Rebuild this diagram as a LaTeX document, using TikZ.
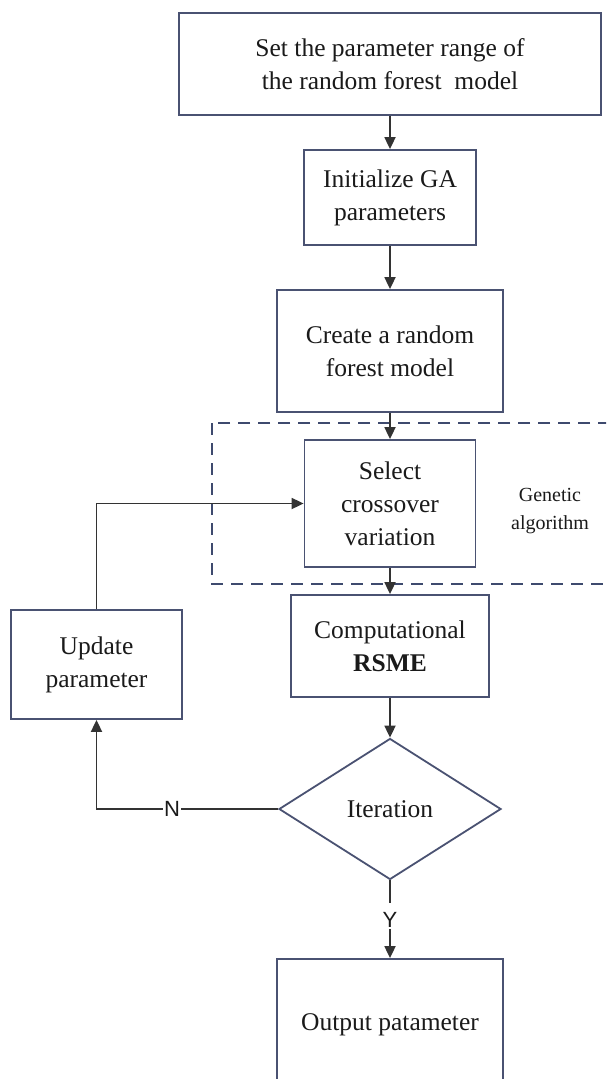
\documentclass[tikz,border=0pt]{standalone}
\usepackage{fontspec}
\setmainfont{Liberation Serif}
\newfontfamily\labelfont{Liberation Sans}
\usetikzlibrary{arrows.meta,shapes.geometric}
\definecolor{boxline}{HTML}{4A5272}
\definecolor{dashline}{HTML}{3E4A6E}
\definecolor{flowline}{HTML}{333333}
\definecolor{ink}{HTML}{1A1A1A}
\tikzset{
  stepbox/.style={draw=boxline, line width=1.8pt, rectangle, align=center,
    text=ink, font=\fontsize{25.5}{33}\selectfont, inner sep=0pt},
  decision/.style={draw=boxline, line width=1.8pt, diamond, aspect=1.57,
    inner sep=0pt, text=ink, font=\fontsize{25.5}{33}\selectfont},
  flow/.style={draw=flowline, line width=1.8pt,
    -{Triangle[length=12pt,width=11pt]}},
  plainflow/.style={draw=flowline, line width=1.8pt},
  yn/.style={font=\labelfont\fontsize{22}{24}\selectfont, text=ink,
    fill=white, inner sep=1pt},
}
\begin{document}
\begin{tikzpicture}[x=1pt,y=-1pt]
\clip (0,0) rectangle (606,1079);
\fill[white] (0,0) rectangle (606,1079);

% main column of steps
\node[stepbox, minimum width=422pt, minimum height=102pt] (range) at (390,64)
  {Set the parameter range of\\the random forest\ \ model};
\node[stepbox, minimum width=172pt, minimum height=95pt] (init) at (390,197.5)
  {Initialize GA\\parameters};
\node[stepbox, minimum width=226pt, minimum height=122pt] (create) at (390,351)
  {Create a random\\forest model};
\node[stepbox, minimum width=171pt, minimum height=127pt] (select) at (390,503.5)
  {Select\\crossover\\variation};
\node[stepbox, minimum width=198pt, minimum height=102pt] (rsme) at (390,646)
  {Computational\\\textbf{RSME}};
\node[decision, minimum width=222pt, minimum height=141pt] (iter) at (390,809)
  {Iteration};
\node[stepbox, minimum width=226pt, minimum height=132pt] (out) at (390,1025)
  {Output patameter};

% side step of the loop
\node[stepbox, minimum width=171pt, minimum height=109pt] (update) at (96.5,664.5)
  {Update\\parameter};

% genetic algorithm frame
\draw[dashline, line width=1.8pt, dash pattern=on 12pt off 8pt]
  (212,423) rectangle (640,584);
\node[align=center, text=ink, font=\fontsize{20}{28}\selectfont] (ga) at (550,511)
  {Genetic\\algorithm};

% connectors
\draw[flow] (range.south) -- (init.north);
\draw[flow] (init.south) -- (create.north);
\draw[flow] (create.south) -- (select.north);
\draw[flow] (select.south) -- (rsme.north);
\draw[flow] (rsme.south) -- (iter.north);

\coordinate (ytop) at (390,903);
\node[yn] (yes) at (390,920) {Y};
\draw[plainflow] (iter.south) -- (ytop);
\draw[flow] (yes.south) -- (out.north);

\coordinate (nturn) at (update.south |- iter.west);
\draw[flow] (iter.west) -- (nturn) -- (update.south);
\node[yn] (no) at (172,809) {N};

\coordinate (uturn) at (update.north |- select.west);
\draw[flow] (update.north) -- (uturn) -- (select.west);
\end{tikzpicture}
\end{document}
